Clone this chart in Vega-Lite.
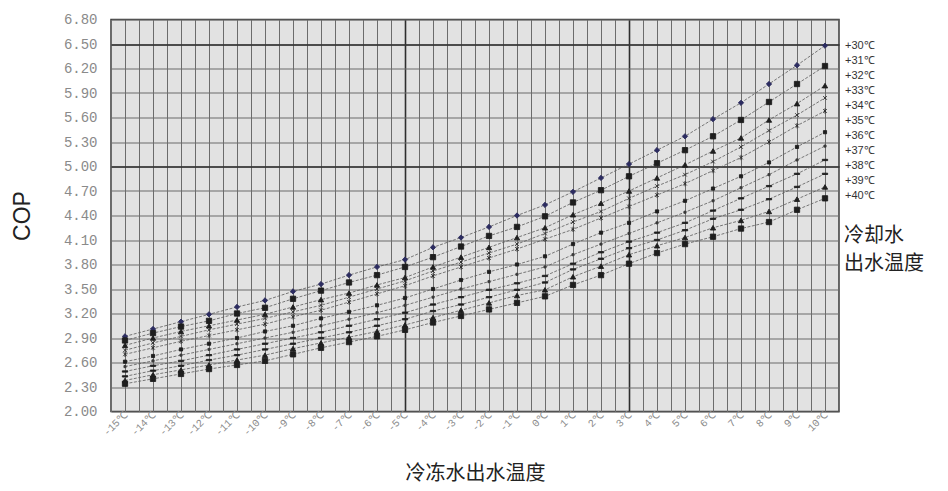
{
"$schema": "https://vega.github.io/schema/vega-lite/v6.json",
"width": 728, "height": 392,
"autosize": "none",
"padding": {"left": 111, "top": 19.5, "right": 109, "bottom": 79.5},
"background": "white",
"config": {"view": {"stroke": "#3a3a3a", "strokeWidth": 1.5, "fill": "#e2e2e2"}, "font": "Liberation Sans"},
"data": {"values": [
{"t":-15,"s":"+30℃","cop":2.92},{"t":-14,"s":"+30℃","cop":3.01},{"t":-13,"s":"+30℃","cop":3.10},{"t":-12,"s":"+30℃","cop":3.19},{"t":-11,"s":"+30℃","cop":3.28},{"t":-10,"s":"+30℃","cop":3.36},{"t":-9,"s":"+30℃","cop":3.47},{"t":-8,"s":"+30℃","cop":3.56},{"t":-7,"s":"+30℃","cop":3.67},{"t":-6,"s":"+30℃","cop":3.77},{"t":-5,"s":"+30℃","cop":3.86},{"t":-4,"s":"+30℃","cop":4.01},{"t":-3,"s":"+30℃","cop":4.13},{"t":-2,"s":"+30℃","cop":4.26},{"t":-1,"s":"+30℃","cop":4.40},{"t":0,"s":"+30℃","cop":4.53},{"t":1,"s":"+30℃","cop":4.69},{"t":2,"s":"+30℃","cop":4.86},{"t":3,"s":"+30℃","cop":5.03},{"t":4,"s":"+30℃","cop":5.20},{"t":5,"s":"+30℃","cop":5.37},{"t":6,"s":"+30℃","cop":5.58},{"t":7,"s":"+30℃","cop":5.78},{"t":8,"s":"+30℃","cop":6.01},{"t":9,"s":"+30℃","cop":6.24},{"t":10,"s":"+30℃","cop":6.48},
{"t":-15,"s":"+31℃","cop":2.87},{"t":-14,"s":"+31℃","cop":2.96},{"t":-13,"s":"+31℃","cop":3.04},{"t":-12,"s":"+31℃","cop":3.11},{"t":-11,"s":"+31℃","cop":3.20},{"t":-10,"s":"+31℃","cop":3.27},{"t":-9,"s":"+31℃","cop":3.38},{"t":-8,"s":"+31℃","cop":3.48},{"t":-7,"s":"+31℃","cop":3.58},{"t":-6,"s":"+31℃","cop":3.67},{"t":-5,"s":"+31℃","cop":3.77},{"t":-4,"s":"+31℃","cop":3.89},{"t":-3,"s":"+31℃","cop":4.02},{"t":-2,"s":"+31℃","cop":4.15},{"t":-1,"s":"+31℃","cop":4.26},{"t":0,"s":"+31℃","cop":4.39},{"t":1,"s":"+31℃","cop":4.56},{"t":2,"s":"+31℃","cop":4.71},{"t":3,"s":"+31℃","cop":4.88},{"t":4,"s":"+31℃","cop":5.04},{"t":5,"s":"+31℃","cop":5.20},{"t":6,"s":"+31℃","cop":5.37},{"t":7,"s":"+31℃","cop":5.57},{"t":8,"s":"+31℃","cop":5.79},{"t":9,"s":"+31℃","cop":6.01},{"t":10,"s":"+31℃","cop":6.23},
{"t":-15,"s":"+32℃","cop":2.81},{"t":-14,"s":"+32℃","cop":2.90},{"t":-13,"s":"+32℃","cop":2.98},{"t":-12,"s":"+32℃","cop":3.05},{"t":-11,"s":"+32℃","cop":3.12},{"t":-10,"s":"+32℃","cop":3.19},{"t":-9,"s":"+32℃","cop":3.28},{"t":-8,"s":"+32℃","cop":3.37},{"t":-7,"s":"+32℃","cop":3.45},{"t":-6,"s":"+32℃","cop":3.55},{"t":-5,"s":"+32℃","cop":3.64},{"t":-4,"s":"+32℃","cop":3.77},{"t":-3,"s":"+32℃","cop":3.89},{"t":-2,"s":"+32℃","cop":4.01},{"t":-1,"s":"+32℃","cop":4.13},{"t":0,"s":"+32℃","cop":4.25},{"t":1,"s":"+32℃","cop":4.41},{"t":2,"s":"+32℃","cop":4.55},{"t":3,"s":"+32℃","cop":4.70},{"t":4,"s":"+32℃","cop":4.86},{"t":5,"s":"+32℃","cop":5.02},{"t":6,"s":"+32℃","cop":5.19},{"t":7,"s":"+32℃","cop":5.35},{"t":8,"s":"+32℃","cop":5.57},{"t":9,"s":"+32℃","cop":5.77},{"t":10,"s":"+32℃","cop":5.99},
{"t":-15,"s":"+33℃","cop":2.75},{"t":-14,"s":"+33℃","cop":2.84},{"t":-13,"s":"+33℃","cop":2.92},{"t":-12,"s":"+33℃","cop":3.00},{"t":-11,"s":"+33℃","cop":3.07},{"t":-10,"s":"+33℃","cop":3.14},{"t":-9,"s":"+33℃","cop":3.22},{"t":-8,"s":"+33℃","cop":3.30},{"t":-7,"s":"+33℃","cop":3.40},{"t":-6,"s":"+33℃","cop":3.50},{"t":-5,"s":"+33℃","cop":3.60},{"t":-4,"s":"+33℃","cop":3.72},{"t":-3,"s":"+33℃","cop":3.83},{"t":-2,"s":"+33℃","cop":3.94},{"t":-1,"s":"+33℃","cop":4.05},{"t":0,"s":"+33℃","cop":4.18},{"t":1,"s":"+33℃","cop":4.32},{"t":2,"s":"+33℃","cop":4.45},{"t":3,"s":"+33℃","cop":4.61},{"t":4,"s":"+33℃","cop":4.76},{"t":5,"s":"+33℃","cop":4.90},{"t":6,"s":"+33℃","cop":5.06},{"t":7,"s":"+33℃","cop":5.24},{"t":8,"s":"+33℃","cop":5.44},{"t":9,"s":"+33℃","cop":5.63},{"t":10,"s":"+33℃","cop":5.84},
{"t":-15,"s":"+34℃","cop":2.70},{"t":-14,"s":"+34℃","cop":2.78},{"t":-13,"s":"+34℃","cop":2.86},{"t":-12,"s":"+34℃","cop":2.93},{"t":-11,"s":"+34℃","cop":3.00},{"t":-10,"s":"+34℃","cop":3.07},{"t":-9,"s":"+34℃","cop":3.16},{"t":-8,"s":"+34℃","cop":3.24},{"t":-7,"s":"+34℃","cop":3.34},{"t":-6,"s":"+34℃","cop":3.44},{"t":-5,"s":"+34℃","cop":3.54},{"t":-4,"s":"+34℃","cop":3.66},{"t":-3,"s":"+34℃","cop":3.77},{"t":-2,"s":"+34℃","cop":3.88},{"t":-1,"s":"+34℃","cop":3.99},{"t":0,"s":"+34℃","cop":4.11},{"t":1,"s":"+34℃","cop":4.23},{"t":2,"s":"+34℃","cop":4.37},{"t":3,"s":"+34℃","cop":4.51},{"t":4,"s":"+34℃","cop":4.65},{"t":5,"s":"+34℃","cop":4.79},{"t":6,"s":"+34℃","cop":4.95},{"t":7,"s":"+34℃","cop":5.11},{"t":8,"s":"+34℃","cop":5.30},{"t":9,"s":"+34℃","cop":5.50},{"t":10,"s":"+34℃","cop":5.68},
{"t":-15,"s":"+35℃","cop":2.61},{"t":-14,"s":"+35℃","cop":2.68},{"t":-13,"s":"+35℃","cop":2.76},{"t":-12,"s":"+35℃","cop":2.83},{"t":-11,"s":"+35℃","cop":2.90},{"t":-10,"s":"+35℃","cop":2.98},{"t":-9,"s":"+35℃","cop":3.05},{"t":-8,"s":"+35℃","cop":3.14},{"t":-7,"s":"+35℃","cop":3.22},{"t":-6,"s":"+35℃","cop":3.30},{"t":-5,"s":"+35℃","cop":3.39},{"t":-4,"s":"+35℃","cop":3.50},{"t":-3,"s":"+35℃","cop":3.61},{"t":-2,"s":"+35℃","cop":3.71},{"t":-1,"s":"+35℃","cop":3.80},{"t":0,"s":"+35℃","cop":3.90},{"t":1,"s":"+35℃","cop":4.05},{"t":2,"s":"+35℃","cop":4.19},{"t":3,"s":"+35℃","cop":4.31},{"t":4,"s":"+35℃","cop":4.45},{"t":5,"s":"+35℃","cop":4.58},{"t":6,"s":"+35℃","cop":4.73},{"t":7,"s":"+35℃","cop":4.88},{"t":8,"s":"+35℃","cop":5.05},{"t":9,"s":"+35℃","cop":5.24},{"t":10,"s":"+35℃","cop":5.42},
{"t":-15,"s":"+36℃","cop":2.55},{"t":-14,"s":"+36℃","cop":2.62},{"t":-13,"s":"+36℃","cop":2.69},{"t":-12,"s":"+36℃","cop":2.76},{"t":-11,"s":"+36℃","cop":2.83},{"t":-10,"s":"+36℃","cop":2.90},{"t":-9,"s":"+36℃","cop":2.97},{"t":-8,"s":"+36℃","cop":3.05},{"t":-7,"s":"+36℃","cop":3.13},{"t":-6,"s":"+36℃","cop":3.21},{"t":-5,"s":"+36℃","cop":3.30},{"t":-4,"s":"+36℃","cop":3.40},{"t":-3,"s":"+36℃","cop":3.50},{"t":-2,"s":"+36℃","cop":3.59},{"t":-1,"s":"+36℃","cop":3.68},{"t":0,"s":"+36℃","cop":3.77},{"t":1,"s":"+36℃","cop":3.92},{"t":2,"s":"+36℃","cop":4.05},{"t":3,"s":"+36℃","cop":4.18},{"t":4,"s":"+36℃","cop":4.31},{"t":5,"s":"+36℃","cop":4.44},{"t":6,"s":"+36℃","cop":4.58},{"t":7,"s":"+36℃","cop":4.74},{"t":8,"s":"+36℃","cop":4.90},{"t":9,"s":"+36℃","cop":5.08},{"t":10,"s":"+36℃","cop":5.25},
{"t":-15,"s":"+37℃","cop":2.49},{"t":-14,"s":"+37℃","cop":2.56},{"t":-13,"s":"+37℃","cop":2.62},{"t":-12,"s":"+37℃","cop":2.69},{"t":-11,"s":"+37℃","cop":2.76},{"t":-10,"s":"+37℃","cop":2.83},{"t":-9,"s":"+37℃","cop":2.90},{"t":-8,"s":"+37℃","cop":2.97},{"t":-7,"s":"+37℃","cop":3.05},{"t":-6,"s":"+37℃","cop":3.13},{"t":-5,"s":"+37℃","cop":3.21},{"t":-4,"s":"+37℃","cop":3.31},{"t":-3,"s":"+37℃","cop":3.40},{"t":-2,"s":"+37℃","cop":3.49},{"t":-1,"s":"+37℃","cop":3.57},{"t":0,"s":"+37℃","cop":3.66},{"t":1,"s":"+37℃","cop":3.81},{"t":2,"s":"+37℃","cop":3.95},{"t":3,"s":"+37℃","cop":4.08},{"t":4,"s":"+37℃","cop":4.19},{"t":5,"s":"+37℃","cop":4.31},{"t":6,"s":"+37℃","cop":4.46},{"t":7,"s":"+37℃","cop":4.61},{"t":8,"s":"+37℃","cop":4.76},{"t":9,"s":"+37℃","cop":4.91},{"t":10,"s":"+37℃","cop":5.08},
{"t":-15,"s":"+38℃","cop":2.43},{"t":-14,"s":"+38℃","cop":2.50},{"t":-13,"s":"+38℃","cop":2.56},{"t":-12,"s":"+38℃","cop":2.63},{"t":-11,"s":"+38℃","cop":2.69},{"t":-10,"s":"+38℃","cop":2.76},{"t":-9,"s":"+38℃","cop":2.83},{"t":-8,"s":"+38℃","cop":2.90},{"t":-7,"s":"+38℃","cop":2.97},{"t":-6,"s":"+38℃","cop":3.05},{"t":-5,"s":"+38℃","cop":3.13},{"t":-4,"s":"+38℃","cop":3.23},{"t":-3,"s":"+38℃","cop":3.31},{"t":-2,"s":"+38℃","cop":3.40},{"t":-1,"s":"+38℃","cop":3.49},{"t":0,"s":"+38℃","cop":3.58},{"t":1,"s":"+38℃","cop":3.74},{"t":2,"s":"+38℃","cop":3.87},{"t":3,"s":"+38℃","cop":4.00},{"t":4,"s":"+38℃","cop":4.10},{"t":5,"s":"+38℃","cop":4.22},{"t":6,"s":"+38℃","cop":4.36},{"t":7,"s":"+38℃","cop":4.47},{"t":8,"s":"+38℃","cop":4.60},{"t":9,"s":"+38℃","cop":4.75},{"t":10,"s":"+38℃","cop":4.91},
{"t":-15,"s":"+39℃","cop":2.38},{"t":-14,"s":"+39℃","cop":2.45},{"t":-13,"s":"+39℃","cop":2.51},{"t":-12,"s":"+39℃","cop":2.57},{"t":-11,"s":"+39℃","cop":2.63},{"t":-10,"s":"+39℃","cop":2.69},{"t":-9,"s":"+39℃","cop":2.77},{"t":-8,"s":"+39℃","cop":2.84},{"t":-7,"s":"+39℃","cop":2.91},{"t":-6,"s":"+39℃","cop":2.98},{"t":-5,"s":"+39℃","cop":3.06},{"t":-4,"s":"+39℃","cop":3.15},{"t":-3,"s":"+39℃","cop":3.24},{"t":-2,"s":"+39℃","cop":3.33},{"t":-1,"s":"+39℃","cop":3.42},{"t":0,"s":"+39℃","cop":3.49},{"t":1,"s":"+39℃","cop":3.65},{"t":2,"s":"+39℃","cop":3.78},{"t":3,"s":"+39℃","cop":3.92},{"t":4,"s":"+39℃","cop":4.03},{"t":5,"s":"+39℃","cop":4.13},{"t":6,"s":"+39℃","cop":4.25},{"t":7,"s":"+39℃","cop":4.34},{"t":8,"s":"+39℃","cop":4.45},{"t":9,"s":"+39℃","cop":4.60},{"t":10,"s":"+39℃","cop":4.75},
{"t":-15,"s":"+40℃","cop":2.34},{"t":-14,"s":"+40℃","cop":2.40},{"t":-13,"s":"+40℃","cop":2.46},{"t":-12,"s":"+40℃","cop":2.52},{"t":-11,"s":"+40℃","cop":2.57},{"t":-10,"s":"+40℃","cop":2.62},{"t":-9,"s":"+40℃","cop":2.70},{"t":-8,"s":"+40℃","cop":2.78},{"t":-7,"s":"+40℃","cop":2.85},{"t":-6,"s":"+40℃","cop":2.92},{"t":-5,"s":"+40℃","cop":3.00},{"t":-4,"s":"+40℃","cop":3.09},{"t":-3,"s":"+40℃","cop":3.17},{"t":-2,"s":"+40℃","cop":3.25},{"t":-1,"s":"+40℃","cop":3.33},{"t":0,"s":"+40℃","cop":3.41},{"t":1,"s":"+40℃","cop":3.55},{"t":2,"s":"+40℃","cop":3.67},{"t":3,"s":"+40℃","cop":3.81},{"t":4,"s":"+40℃","cop":3.94},{"t":5,"s":"+40℃","cop":4.05},{"t":6,"s":"+40℃","cop":4.14},{"t":7,"s":"+40℃","cop":4.24},{"t":8,"s":"+40℃","cop":4.32},{"t":9,"s":"+40℃","cop":4.47},{"t":10,"s":"+40℃","cop":4.61}
]},
"layer": [
{"mark": {"type": "line", "color": "#5a5a5a", "strokeWidth": 0.8, "strokeDash": [3, 1.5]},
 "encoding": {
  "x": {"field": "t", "type": "quantitative", "scale": {"domain": [-15.5, 10.5], "nice": false, "zero": false},
   "axis": {"orient": "bottom", "values": [-15.5,-15,-14.5,-14,-13.5,-13,-12.5,-12,-11.5,-11,-10.5,-10,-9.5,-9,-8.5,-8,-7.5,-7,-6.5,-6,-5.5,-5,-4.5,-4,-3.5,-3,-2.5,-2,-1.5,-1,-0.5,0,0.5,1,1.5,2,2.5,3,3.5,4,4.5,5,5.5,6,6.5,7,7.5,8,8.5,9,9.5,10,10.5],
    "grid": true, "gridColor": "#6c6c6c", "gridWidth": 1, "ticks": false, "domain": false,
    "labelExpr": "datum.value % 1 == 0 ? datum.value + '℃' : ''",
    "labelAngle": -45, "labelAlign": "right", "labelBaseline": "middle", "labelFontSize": 10.5, "labelColor": "#8a8a8a", "labelFont": "Liberation Mono",
    "labelPadding": 2, "labelDx": -5, "labelOverlap": false, "labelBound": false, "labelFlush": false,
    "title": "冷冻水出水温度", "titleFont": "Noto Sans CJK SC", "titleFontSize": 20, "titleFontWeight": "normal", "titleColor": "#222", "titlePadding": 26}},
  "y": {"field": "cop", "type": "quantitative", "scale": {"domain": [2, 6.8], "nice": false, "zero": false},
   "axis": {"orient": "left", "values": [2,2.3,2.6,2.9,3.2,3.5,3.8,4.1,4.4,4.7,5,5.3,5.6,5.9,6.2,6.5,6.8], "format": ".2f",
    "grid": true, "gridColor": "#6a6a6a", "gridWidth": 1, "ticks": false, "domain": false,
    "labelFont": "Liberation Mono", "labelFontSize": 14, "labelColor": "#8a8a8a", "labelPadding": 14,
    "title": "COP", "titleFont": "Liberation Sans", "titleFontSize": 23, "titleFontWeight": "normal", "titleColor": "#222", "titlePadding": 29}},
  "detail": {"field": "s"}
 }},
{"mark": {"type": "point", "filled": true, "size": 28, "strokeWidth": 0.9, "opacity": 1},
 "encoding": {
  "x": {"field": "t", "type": "quantitative",
   "axis": {"orient": "top", "values": [-5, 3], "grid": true, "gridColor": "#2e2e2e", "gridWidth": 1.6, "labels": false, "ticks": false, "domain": false, "title": null}},
  "y": {"field": "cop", "type": "quantitative",
   "axis": {"orient": "right", "values": [5, 6.5], "grid": true, "gridColor": "#2e2e2e", "gridWidth": 1.6, "labels": false, "ticks": false, "domain": false, "title": null}},
  "color": {"field": "s", "type": "nominal",
   "scale": {"domain": ["+30℃","+31℃","+32℃","+33℃","+34℃","+35℃","+36℃","+37℃","+38℃","+39℃","+40℃"],
     "range": ["#2c2c60","#1e1e1e","#1e1e1e","#2a2a2a","#2a2a2a","#1e1e1e","#3a3a3a","#1e1e1e","#1e1e1e","#1e1e1e","#1e1e1e"]},
   "legend": {"orient": "none", "legendX": 733, "legendY": 21, "title": ["冷却水", "出水温度"], "titleOrient": "bottom", "titleAnchor": "start",
     "titleFont": "Noto Sans CJK SC", "titleFontSize": 20, "titleFontWeight": "normal", "titleColor": "#222", "titleLineHeight": 28, "titlePadding": 24,
     "symbolOpacity": 0, "symbolSize": 0, "symbolStrokeWidth": 0, "labelOffset": -10,
     "labelFont": "Liberation Sans", "labelFontSize": 11, "labelColor": "#333", "rowPadding": 3}},
  "stroke": {"field": "s", "type": "nominal",
   "scale": {"domain": ["+30℃","+31℃","+32℃","+33℃","+34℃","+35℃","+36℃","+37℃","+38℃","+39℃","+40℃"],
     "range": ["#2c2c60","#1e1e1e","#1e1e1e","#2a2a2a","#2a2a2a","#1e1e1e","#3a3a3a","#1e1e1e","#1e1e1e","#1e1e1e","#1e1e1e"]},
   "legend": null},
  "shape": {"field": "s", "type": "nominal",
   "scale": {"domain": ["+30℃","+31℃","+32℃","+33℃","+34℃","+35℃","+36℃","+37℃","+38℃","+39℃","+40℃"],
     "range": ["diamond", "square", "triangle-up", "M-0.7,-0.7L0.7,0.7M-0.7,0.7L0.7,-0.7", "M-0.7,-0.7L0.7,0.7M-0.7,0.7L0.7,-0.7M0,-1L0,1", "M-0.6,-0.6H0.6V0.6H-0.6Z", "M-0.4,-0.4H0.4V0.4H-0.4Z", "M-1,-0.25H1V0.25H-1Z", "M-1,-0.25H1V0.25H-1Z", "triangle-up", "square"]},
   "legend": null}
 }}
],
"resolve": {"axis": {"x": "independent", "y": "independent"}}
}
